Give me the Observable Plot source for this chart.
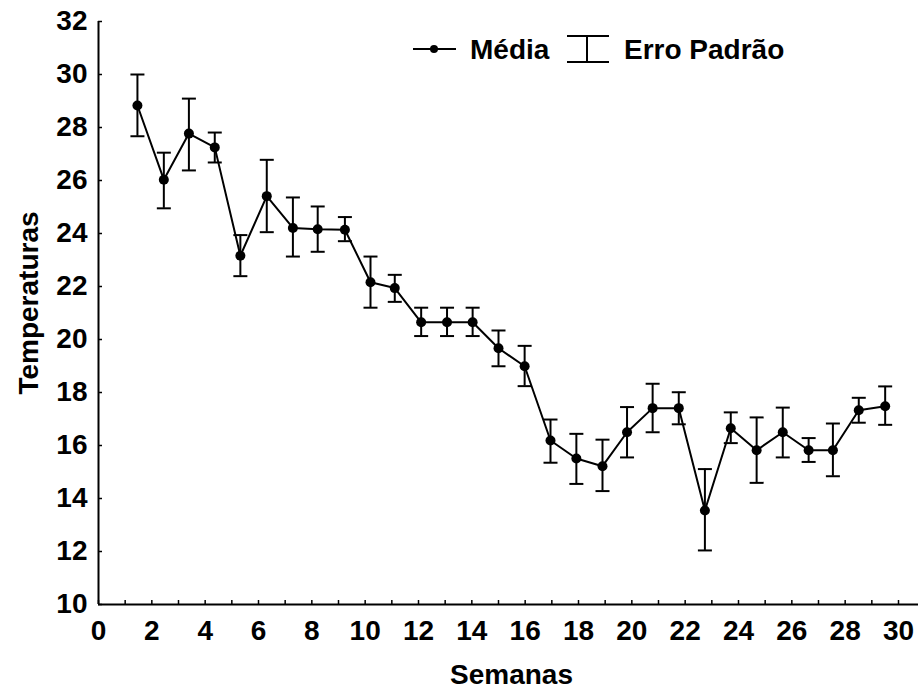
<!DOCTYPE html>
<html><head><meta charset="utf-8">
<script src="https://cdn.jsdelivr.net/npm/d3@7"></script>
<script src="https://cdn.jsdelivr.net/npm/@observablehq/plot@0.6"></script>
<style>
body{margin:0;background:#fff;}
#wrap{position:relative;width:918px;height:693px;font-family:"Liberation Sans",Arial,sans-serif;}
#legend{position:absolute;left:0;top:0;pointer-events:none;}
</style></head><body><div id="wrap"></div>
<script>
// Data
const semanas = [1.46, 2.45, 3.39, 4.36, 5.32, 6.31, 7.29, 8.22, 9.24, 10.2,
  11.11, 12.1, 13.07, 14.03, 15.0, 15.98, 16.95, 17.92, 18.9, 19.82,
  20.78, 21.76, 22.74, 23.71, 24.68, 25.66, 26.63, 27.54, 28.51, 29.5];
const media = [28.83, 26.03, 27.77, 27.25, 23.16, 25.41, 24.21, 24.16, 24.14, 22.16,
  21.94, 20.65, 20.65, 20.65, 19.67, 18.99, 16.19, 15.51, 15.22, 16.5,
  17.41, 17.41, 13.55, 16.65, 15.82, 16.5, 15.82, 15.82, 17.33, 17.48];
const erroSup = [30.0, 27.05, 29.09, 27.81, 23.94, 26.78, 25.36, 25.02, 24.62, 23.13,
  22.44, 21.2, 21.2, 21.2, 20.34, 19.76, 16.98, 16.44, 16.22, 17.45,
  18.33, 18.01, 15.11, 17.25, 17.06, 17.43, 16.28, 16.83, 17.8, 18.23];
const erroInf = [27.67, 24.95, 26.38, 26.68, 22.39, 24.05, 23.13, 23.31, 23.71, 21.2,
  21.42, 20.13, 20.13, 20.13, 18.99, 18.24, 15.35, 14.55, 14.28, 15.55,
  16.5, 16.8, 12.04, 16.09, 14.59, 15.55, 15.38, 14.84, 16.86, 16.78];
const xTickLabels = [0, 2, 4, 6, 8, 10, 12, 14, 16, 18, 20, 22, 24, 26, 28, 30];
const xMinorTicks = [0,1,2,3,4,5,6,7,8,9,10,11,12,13,14,15,16,17,18,19,20,21,22,23,24,25,26,27,28,29,30];
const yTicks = [10, 12, 14, 16, 18, 20, 22, 24, 26, 28, 30, 32];
const xTitle = "Semanas";
const yTitle = "Temperaturas";
const legendLabels = ["Média", "Erro Padrão"];

const data = semanas.map((s, i) => ({semana: s, media: media[i], sup: erroSup[i], inf: erroInf[i]}));
const font = '"Liberation Sans", Arial, sans-serif';
const fs = 28;
const cap = {draw(ctx) { ctx.moveTo(-7, 0); ctx.lineTo(7, 0); }};

const chart = Plot.plot({
  width: 918, height: 693,
  marginLeft: 98, marginRight: 0, marginTop: 21, marginBottom: 89,
  x: {domain: [0, 30.75]},
  y: {domain: [10, 32]},
  style: {fontFamily: font, fontSize: fs + "px", fontWeight: "bold", color: "#000", background: "#fff"},
  marks: [
    Plot.axisX(xTickLabels, {tickSize: 0, tickPadding: 16, label: null, fontSize: fs, fontWeight: "bold"}),
    Plot.axisY(yTicks, {tickSize: 0, tickPadding: 11, label: null, fontSize: fs, fontWeight: "bold"}),
    Plot.ruleX(xMinorTicks, {x: d => d, y1: 10, y2: 10.15, strokeWidth: 1.5}),
    Plot.ruleY(yTicks, {y: d => d, x1: 0, x2: 0.15, strokeWidth: 1.5}),
    Plot.ruleY([10], {strokeWidth: 2}),
    Plot.ruleX([0], {strokeWidth: 2}),
    Plot.ruleX(data, {x: "semana", y1: "inf", y2: "sup", strokeWidth: 2}),
    Plot.dot(data, {x: "semana", y: "sup", symbol: cap, stroke: "black", fill: "none", strokeWidth: 2}),
    Plot.dot(data, {x: "semana", y: "inf", symbol: cap, stroke: "black", fill: "none", strokeWidth: 2}),
    Plot.line(data, {x: "semana", y: "media", stroke: "black", strokeWidth: 2}),
    Plot.dot(data, {x: "semana", y: "media", r: 5, fill: "black", stroke: "none"}),
    Plot.text([xTitle], {frameAnchor: "bottom", textAnchor: "middle", lineAnchor: "middle", dx: 3, dy: 70.5, fontSize: fs, fontWeight: "bold", fill: "black"}),
    Plot.text([yTitle], {frameAnchor: "left", textAnchor: "middle", lineAnchor: "middle", rotate: -90, dx: -69, dy: -10, fontSize: fs, fontWeight: "bold", fill: "black"})
  ]
});
const wrap = document.getElementById("wrap");
wrap.appendChild(chart);

// Legend overlay
const ns = "http://www.w3.org/2000/svg";
const lg = document.createElementNS(ns, "svg");
lg.setAttribute("id", "legend");
lg.setAttribute("width", 918);
lg.setAttribute("height", 80);
lg.innerHTML = `
  <line x1="413" y1="49" x2="456" y2="49" stroke="black" stroke-width="2"/>
  <circle cx="434" cy="49" r="4" fill="black"/>
  <text x="470" y="59" font-family='${font}' font-size="${fs}" font-weight="bold">${legendLabels[0]}</text>
  <line x1="587" y1="36" x2="587" y2="62" stroke="black" stroke-width="2"/>
  <line x1="567" y1="36" x2="609" y2="36" stroke="black" stroke-width="2"/>
  <line x1="567" y1="62" x2="609" y2="62" stroke="black" stroke-width="2"/>
  <text x="624" y="59" font-family='${font}' font-size="${fs}" font-weight="bold">${legendLabels[1]}</text>`;
wrap.appendChild(lg);
</script>
</body></html>
